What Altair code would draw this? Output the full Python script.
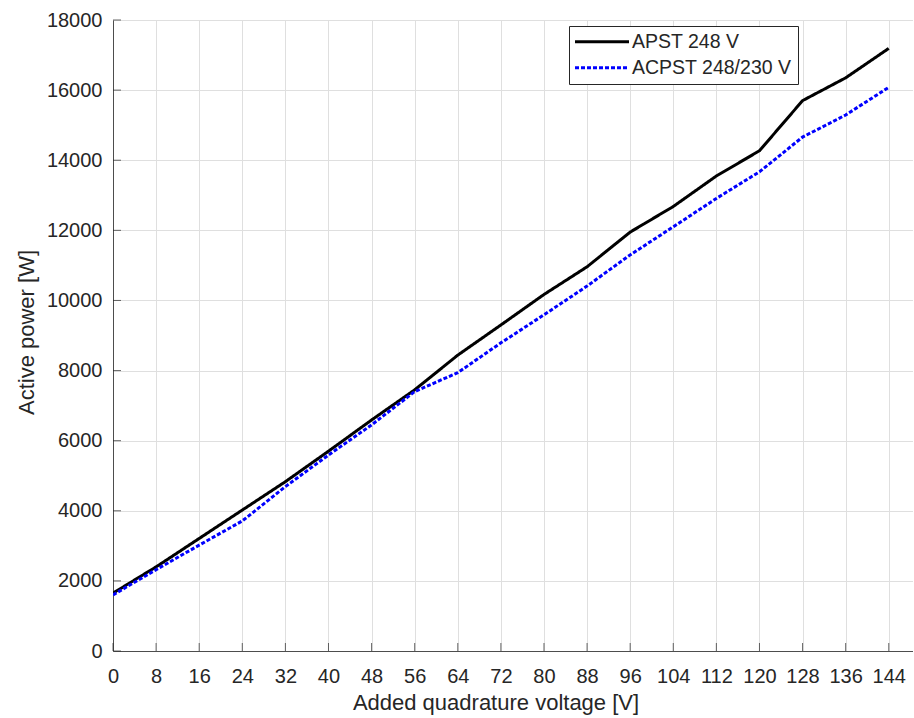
import altair as alt
import pandas as pd

# ---- data ----
VOLTAGE = [0, 8, 16, 24, 32, 40, 48, 56, 64, 72, 80, 88, 96, 104, 112, 120, 128, 136, 144]
APST = [1650, 2400, 3210, 4020, 4830, 5700, 6590, 7450, 8440, 9300, 10170, 10960,
        11950, 12680, 13550, 14270, 15700, 16350, 17190]
ACPST = [1600, 2320, 3020, 3710, 4690, 5590, 6450, 7400, 7940, 8790, 9590, 10410,
         11300, 12100, 12910, 13670, 14660, 15290, 16080]
SERIES = ["APST 248 V", "ACPST 248/230 V"]
X_TICKS = list(range(0, 145, 8))
Y_TICKS = list(range(0, 18001, 2000))

rows = []
for v, a, b in zip(VOLTAGE, APST, ACPST):
    rows.append({"V": v, "P": a, "series": SERIES[0]})
    rows.append({"V": v, "P": b, "series": SERIES[1]})
df = pd.DataFrame(rows)

xt = pd.DataFrame({"V": X_TICKS})
yt = pd.DataFrame({"P": Y_TICKS})

W, H = 800, 631
FONT = "Liberation Sans"
TXT = "#262626"
AX = "#4d4d4d"
GRID = "#dfdfdf"

xscale = alt.Scale(domain=[0, 148.5], nice=False, zero=False)
yscale = alt.Scale(domain=[0, 18000], nice=False)

xaxis = alt.Axis(values=X_TICKS, grid=True, gridColor=GRID, ticks=False, tickSize=0,
                 domainColor=AX, labelFontSize=20, labelColor=TXT, labelPadding=31,
                 labelBaseline="alphabetic", labelFlush=False, labelOverlap=False,
                 title="Added quadrature voltage [V]", titleFontSize=22, titleFontWeight="normal",
                 titleColor=TXT, titleX=382.5, titleY=58, titleAlign="center",
                 titleBaseline="alphabetic")
yaxis = alt.Axis(values=Y_TICKS, format="d", grid=True, gridColor=GRID, ticks=False, tickSize=0,
                 domainColor=AX, labelFontSize=20, labelColor=TXT, labelPadding=11,
                 labelFlush=False, labelOverlap=False,
                 title="Active power [W]", titleFontSize=22, titleFontWeight="normal",
                 titleColor=TXT, titleX=-80, titleY=312, titleAlign="center",
                 titleBaseline="alphabetic", titleAngle=270)

legend = alt.Legend(title=None, orient="none", legendX=456, legendY=6,
                    symbolType="M-9.75,0H44.25", symbolSize=4, symbolStrokeWidth=3,
                    labelFontSize=19.5, labelColor=TXT, labelFont=FONT,
                    padding=6, labelOffset=37.5, rowPadding=5,
                    strokeColor=TXT, fillColor="white")

lines = alt.Chart(df).mark_line(strokeWidth=3, clip=True).encode(
    x=alt.X("V:Q", scale=xscale, axis=xaxis),
    y=alt.Y("P:Q", scale=yscale, axis=yaxis),
    color=alt.Color("series:N", sort=SERIES,
                    scale=alt.Scale(domain=SERIES, range=["#000000", "#0000ff"]),
                    legend=legend),
    strokeDash=alt.StrokeDash("series:N", sort=SERIES,
                              scale=alt.Scale(domain=SERIES, range=[[1, 0], [4, 2]]),
                              legend=legend),
    order=alt.Order("V:Q"),
)

xticks = alt.Chart(xt).mark_tick(color=TXT, size=8, thickness=1, orient="vertical").encode(
    x=alt.X("V:Q", scale=xscale, axis=xaxis),
    y=alt.value(H - 4),
)
yticks = alt.Chart(yt).mark_tick(color=TXT, size=8, thickness=1, orient="horizontal").encode(
    y=alt.Y("P:Q", scale=yscale, axis=yaxis),
    x=alt.value(4),
)

chart = alt.layer(lines, xticks, yticks).properties(
    width=W, height=H,
    autosize=alt.AutoSizeParams(type="none"),
    padding={"left": 113, "top": 20, "right": 0, "bottom": 64},
).configure(font=FONT).configure_view(stroke=None)

chart.save("out.html", embed_options={"renderer": "svg", "actions": False})
